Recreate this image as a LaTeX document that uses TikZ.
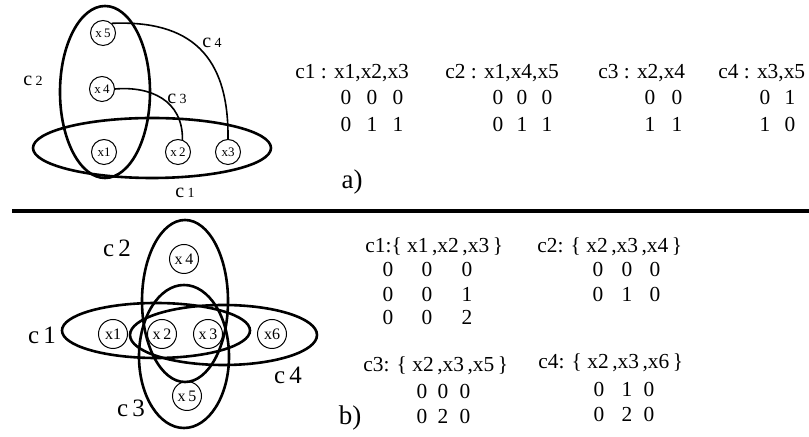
\documentclass[tikz,border=0pt]{standalone}
\usepackage{fontspec}
\setmainfont{Liberation Serif}
\usetikzlibrary{positioning}

\tikzset{
  var/.style={draw, circle, line width=0.5pt, inner sep=0pt, minimum size=12.5pt, font=\fontsize{6.5}{7}\selectfont},
  varb/.style={var, minimum size=14.5pt, font=\fontsize{8}{9}\selectfont},
  cset/.style={line width=1.3pt},
  link/.style={line width=0.8pt},
  lbl/.style={inner sep=0pt, font=\fontsize{10}{12}\selectfont},
  lblb/.style={inner sep=0pt, font=\fontsize{12.5}{14}\selectfont},
  head/.style={inner sep=0pt, anchor=base west, font=\fontsize{10.7}{13}\selectfont},
  val/.style={inner sep=0pt, anchor=base, font=\fontsize{10.7}{13}\selectfont},
  part/.style={inner sep=0pt, font=\fontsize{13.5}{16}\selectfont}
}
\newcommand{\hlab}[1]{c\,{\fontsize{7}{8}\selectfont #1}}

\begin{document}
\begin{tikzpicture}[x=0.5pt, y=-0.5pt]
    \useasboundingbox (0,0) rectangle (809,437);

    % a) constraint graph
    \draw[cset] (152,148) ellipse [x radius=119, y radius=30];
    \draw[cset] (105,92) ellipse [x radius=45, y radius=86];
    \node[var] (a5) at (103,33) {x\,5};
    \node[var] (a4) at (102,89) {x\,4};
    \node[var] (a1) at (104,152) {x1};
    \node[var] (a2) at (178,152) {x\,2};
    \node[var] (a3) at (228,152) {x3};
    \draw[link] (a5.48) .. controls (190,20) and (229,55) .. (a3.north);
    \draw[link] (a4.east) .. controls (150,86) and (183,100) .. (a2.70);
    \node[lbl] (la2) at (33,81) {\hlab{2}};
    \node[lbl] (la4) at (212,43) {\hlab{4}};
    \node[lbl] (la3) at (177,99) {\hlab{3}};
    \node[lbl] (la1) at (185,193) {\hlab{1}};
    \node[part] (pa) at (352,182) {a)};

    % a) tables
    \node[head] (hc1) at (295,79) {c1 : x1,x2,x3};
    \node[head] (hc2) at (445,79) {c2 : x1,x4,x5};
    \node[head] (hc3) at (598,79) {c3 : x2,x4};
    \node[head] (hc4) at (718,79) {c4 : x3,x5};
    \foreach \px/\py/\v in {346/105/0,372/105/0,398/105/0,346/132/0,372/132/1,398/132/1}
        \node[val] (va\px-\py) at (\px,\py) {\v};
    \foreach \px/\py/\v in {498/105/0,522/105/0,547/105/0,498/132/0,522/132/1,547/132/1}
        \node[val] (va\px-\py) at (\px,\py) {\v};
    \foreach \px/\py/\v in {650/105/0,677/105/0,650/132/1,677/132/1}
        \node[val] (va\px-\py) at (\px,\py) {\v};
    \foreach \px/\py/\v in {765/105/0,790/105/1,765/132/1,790/132/0}
        \node[val] (va\px-\py) at (\px,\py) {\v};

    % separator
    \draw[line width=1.7pt] (12,211) -- (809,211);

    % b) constraint graph
    \draw[cset] (156,330.5) ellipse [x radius=94, y radius=27.5];
    \draw[cset] (223.5,335) ellipse [x radius=93.5, y radius=30];
    \draw[cset] (185,301) ellipse [x radius=43, y radius=81];
    \draw[cset] (184,356.5) ellipse [x radius=45, y radius=71.5];
    \node[varb] (b1) at (113,334) {x1};
    \node[varb] (b2) at (162,334) {x\,2};
    \node[varb] (b3) at (208,334) {x\,3};
    \node[varb] (b6) at (272,334) {x6};
    \node[varb] (b4) at (184,259) {x\,4};
    \node[varb] (b5) at (187,396) {x\,5};
    \node[lblb] (lb2) at (117,248) {c\,2};
    \node[lblb] (lb1) at (42,335) {c\,1};
    \node[lblb] (lb3) at (131,408) {c\,3};
    \node[lblb] (lb4) at (288,375) {c\,4};
    \node[part] (pb) at (350,418) {b)};

    % b) tables
    \node[head] (kc1) at (365,253) {c1:\{ x1\,,x2\,,x3\,\}};
    \node[head] (kc2) at (537,253) {c2: \{ x2\,,x3\,,x4\,\}};
    \node[head] (kc3) at (363,372) {c3: \{ x2\,,x3\,,x5\,\}};
    \node[head] (kc4) at (538,369) {c4: \{ x2\,,x3\,,x6\,\}};
    \foreach \px/\py/\v in {388/277/0,427/277/0,467/277/0,388/302/0,427/302/0,467/302/1,388/325/0,427/325/0,467/325/2}
        \node[val] (vb\px-\py) at (\px,\py) {\v};
    \foreach \px/\py/\v in {598/277/0,627/277/0,655/277/0,598/302/0,627/302/1,655/302/0}
        \node[val] (vb\px-\py) at (\px,\py) {\v};
    \foreach \px/\py/\v in {422/399/0,443/399/0,465/399/0,422/424/0,443/424/2,465/424/0}
        \node[val] (vb\px-\py) at (\px,\py) {\v};
    \foreach \px/\py/\v in {599/397/0,627/397/1,649/397/0,599/422/0,627/422/2,649/422/0}
        \node[val] (vb\px-\py) at (\px,\py) {\v};
\end{tikzpicture}
\end{document}
